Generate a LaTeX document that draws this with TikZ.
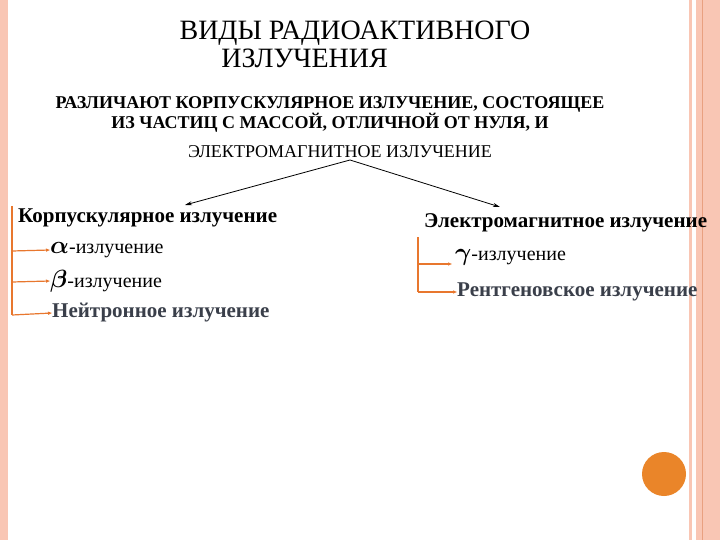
\documentclass[tikz,border=0pt]{standalone}
\usepackage{amsmath,amssymb,bm}
\usepackage{fontspec}
\setmainfont{Liberation Serif}
\usetikzlibrary{arrows.meta}
\definecolor{pinkb}{HTML}{F9C6B4}
\definecolor{pinkd}{HTML}{E9A080}
\definecolor{org}{HTML}{E8772E}
\definecolor{dgray}{HTML}{3A3F4A}
\tikzset{lbl/.style={anchor=west,font=\bfseries\fontsize{21}{23}\selectfont,inner sep=0pt},
 sub/.style={anchor=west,font=\fontsize{20}{22}\selectfont,inner sep=0pt},
 br/.style={draw=org,line width=1.2pt},
 ar/.style={br,-{Triangle[length=4pt,width=3pt]}}}
\begin{document}
\begin{tikzpicture}[x=1pt,y=-1pt]
\useasboundingbox (0,0) rectangle (720,540);
\fill[white] (0,0) rectangle (720,540);
\fill[pinkb] (0,0) rectangle (8,540);
\fill[pinkb] (689,0) rectangle (692,540);
\fill[pinkb] (696,0) rectangle (720,540);
\draw[pinkd,line width=0.8pt] (702,0) -- (702,540);
\fill[org!90!yellow] (664,474) circle (22);
\node[font=\fontsize{28}{28}\selectfont,align=center] (t) at (355,44) {ВИДЫ РАДИОАКТИВНОГО\\\hspace*{-3.6em}ИЗЛУЧЕНИЯ};
\node[font=\bfseries\fontsize{18}{20}\selectfont,align=center] (s) at (330,114) {РАЗЛИЧАЮТ КОРПУСКУЛЯРНОЕ ИЗЛУЧЕНИЕ, СОСТОЯЩЕЕ\\ИЗ ЧАСТИЦ С МАССОЙ, ОТЛИЧНОЙ ОТ НУЛЯ, И};
\node[font=\fontsize{18}{20}\selectfont] (e) at (340,152) {ЭЛЕКТРОМАГНИТНОЕ ИЗЛУЧЕНИЕ};
\coordinate (top) at (350,160);
\node[lbl] (k) at (18,218) {Корпускулярное излучение};
\node[lbl] (em) at (424,223) {Электромагнитное излучение};
\draw[-{Stealth[length=7pt,width=4pt]},line width=0.8pt] (top) -- (185,205);
\draw[-{Stealth[length=7pt,width=4pt]},line width=0.8pt] (top) -- (500,207);
\node[sub] (a) at (50,250) {{\fontsize{28}{28}\selectfont$\bm\alpha$}-излучение};
\node[sub] (b) at (50,281) {{\fontsize{24}{24}\selectfont$\bm\beta$}-излучение};
\node[lbl,text=dgray] (n) at (52,313) {Нейтронное излучение};
\coordinate (lt) at (12,206);
\coordinate (lb) at (12,315);
\draw[br] (lt) -- (lb);
\draw[ar] (12,251) -- (a.west);
\draw[ar] (12,282) -- (b.west);
\draw[ar] (lb) -- (n.west);
\node[sub] (g) at (455,257) {{\fontsize{28}{28}\selectfont$\bm\gamma$}-излучение};
\node[lbl,text=dgray] (r) at (457,292) {Рентгеновское излучение};
\coordinate (rt) at (418,237);
\coordinate (rb) at (418,292);
\draw[br] (rt) -- (rb);
\draw[ar] (418,264) -- (452,264);
\draw[ar] (rb) -- (r.west);
\end{tikzpicture}
\end{document}
